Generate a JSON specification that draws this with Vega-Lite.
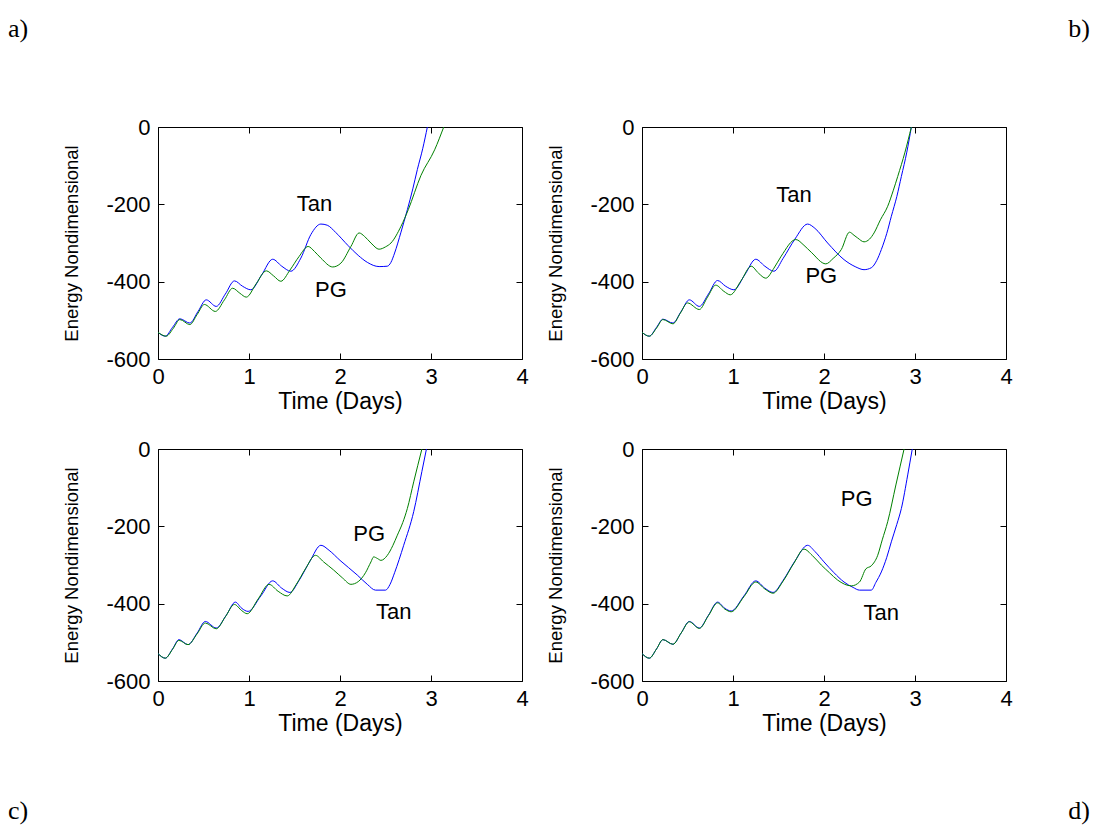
{
  "$schema": "https://vega.github.io/schema/vega-lite/v6.json",
  "padding": {"left": 7, "top": 15, "right": 0, "bottom": 0},
  "background": "white",
  "config": {
    "font": "Liberation Sans",
    "view": {"stroke": "#000", "strokeWidth": 1},
    "axis": {"domain": false, "grid": false, "tickColor": "#000", "tickSize": -6, "tickWidth": 1, "labelFont": "Liberation Sans", "labelFontSize": 22, "labelColor": "#000", "labelFlush": false, "labelOverlap": false, "labelBound": false, "titleFont": "Liberation Sans", "titleFontWeight": "normal", "titleColor": "#000"},
    "axisX": {"labelPadding": 13, "titleFontSize": 23, "titlePadding": 3},
    "axisY": {"labelPadding": 14, "titleFontSize": 18.5, "titlePadding": 24},
    "title": {"font": "Liberation Serif", "fontSize": 26, "fontWeight": "normal", "color": "#000"}
  },
  "datasets": {
    "curves": [
      {"panel":"a","series":"Tan","t":0,"e":-531},{"panel":"a","series":"Tan","t":0.08,"e":-541},{"panel":"a","series":"Tan","t":0.16,"e":-518},{"panel":"a","series":"Tan","t":0.24,"e":-496},{"panel":"a","series":"Tan","t":0.35,"e":-507},{"panel":"a","series":"Tan","t":0.44,"e":-477},{"panel":"a","series":"Tan","t":0.53,"e":-447},{"panel":"a","series":"Tan","t":0.64,"e":-464},{"panel":"a","series":"Tan","t":0.74,"e":-432},{"panel":"a","series":"Tan","t":0.84,"e":-398},{"panel":"a","series":"Tan","t":0.93,"e":-412},{"panel":"a","series":"Tan","t":1.02,"e":-421},{"panel":"a","series":"Tan","t":1.14,"e":-382},{"panel":"a","series":"Tan","t":1.26,"e":-342},{"panel":"a","series":"Tan","t":1.36,"e":-360},{"panel":"a","series":"Tan","t":1.46,"e":-373},{"panel":"a","series":"Tan","t":1.57,"e":-339},{"panel":"a","series":"Tan","t":1.68,"e":-278},{"panel":"a","series":"Tan","t":1.79,"e":-251},{"panel":"a","series":"Tan","t":1.86,"e":-254},{"panel":"a","series":"Tan","t":1.95,"e":-272},{"panel":"a","series":"Tan","t":2.09,"e":-307},{"panel":"a","series":"Tan","t":2.2,"e":-332},{"panel":"a","series":"Tan","t":2.3,"e":-350},{"panel":"a","series":"Tan","t":2.43,"e":-361},{"panel":"a","series":"Tan","t":2.52,"e":-360},{"panel":"a","series":"Tan","t":2.56,"e":-350},{"panel":"a","series":"Tan","t":2.6,"e":-326},{"panel":"a","series":"Tan","t":2.67,"e":-272},{"panel":"a","series":"Tan","t":2.74,"e":-214},{"panel":"a","series":"Tan","t":2.8,"e":-160},{"panel":"a","series":"Tan","t":2.85,"e":-110},{"panel":"a","series":"Tan","t":2.91,"e":-55},{"panel":"a","series":"Tan","t":2.96,"e":0},
      {"panel":"a","series":"PG","t":0,"e":-531},{"panel":"a","series":"PG","t":0.09,"e":-541},{"panel":"a","series":"PG","t":0.17,"e":-520},{"panel":"a","series":"PG","t":0.24,"e":-498},{"panel":"a","series":"PG","t":0.35,"e":-511},{"panel":"a","series":"PG","t":0.43,"e":-485},{"panel":"a","series":"PG","t":0.51,"e":-459},{"panel":"a","series":"PG","t":0.63,"e":-477},{"panel":"a","series":"PG","t":0.73,"e":-447},{"panel":"a","series":"PG","t":0.82,"e":-417},{"panel":"a","series":"PG","t":0.9,"e":-430},{"panel":"a","series":"PG","t":0.97,"e":-440},{"panel":"a","series":"PG","t":1.08,"e":-405},{"panel":"a","series":"PG","t":1.19,"e":-372},{"panel":"a","series":"PG","t":1.27,"e":-385},{"panel":"a","series":"PG","t":1.35,"e":-399},{"panel":"a","series":"PG","t":1.45,"e":-370},{"panel":"a","series":"PG","t":1.55,"e":-335},{"panel":"a","series":"PG","t":1.65,"e":-309},{"panel":"a","series":"PG","t":1.72,"e":-322},{"panel":"a","series":"PG","t":1.79,"e":-339},{"panel":"a","series":"PG","t":1.92,"e":-362},{"panel":"a","series":"PG","t":2.01,"e":-352},{"panel":"a","series":"PG","t":2.12,"e":-309},{"panel":"a","series":"PG","t":2.21,"e":-274},{"panel":"a","series":"PG","t":2.27,"e":-283},{"panel":"a","series":"PG","t":2.34,"e":-300},{"panel":"a","series":"PG","t":2.43,"e":-316},{"panel":"a","series":"PG","t":2.5,"e":-310},{"panel":"a","series":"PG","t":2.56,"e":-300},{"panel":"a","series":"PG","t":2.67,"e":-257},{"panel":"a","series":"PG","t":2.75,"e":-214},{"panel":"a","series":"PG","t":2.89,"e":-125},{"panel":"a","series":"PG","t":3.04,"e":-59},{"panel":"a","series":"PG","t":3.14,"e":0},
      {"panel":"b","series":"Tan","t":0,"e":-531},{"panel":"b","series":"Tan","t":0.08,"e":-541},{"panel":"b","series":"Tan","t":0.16,"e":-518},{"panel":"b","series":"Tan","t":0.23,"e":-497},{"panel":"b","series":"Tan","t":0.34,"e":-507},{"panel":"b","series":"Tan","t":0.43,"e":-477},{"panel":"b","series":"Tan","t":0.52,"e":-447},{"panel":"b","series":"Tan","t":0.63,"e":-464},{"panel":"b","series":"Tan","t":0.73,"e":-432},{"panel":"b","series":"Tan","t":0.83,"e":-397},{"panel":"b","series":"Tan","t":0.92,"e":-412},{"panel":"b","series":"Tan","t":1.01,"e":-421},{"panel":"b","series":"Tan","t":1.13,"e":-382},{"panel":"b","series":"Tan","t":1.25,"e":-342},{"panel":"b","series":"Tan","t":1.35,"e":-360},{"panel":"b","series":"Tan","t":1.45,"e":-373},{"panel":"b","series":"Tan","t":1.55,"e":-340},{"panel":"b","series":"Tan","t":1.68,"e":-290},{"panel":"b","series":"Tan","t":1.82,"e":-251},{"panel":"b","series":"Tan","t":1.9,"e":-262},{"panel":"b","series":"Tan","t":2.04,"e":-300},{"panel":"b","series":"Tan","t":2.22,"e":-343},{"panel":"b","series":"Tan","t":2.35,"e":-362},{"panel":"b","series":"Tan","t":2.44,"e":-369},{"panel":"b","series":"Tan","t":2.52,"e":-364},{"panel":"b","series":"Tan","t":2.58,"e":-345},{"panel":"b","series":"Tan","t":2.63,"e":-317},{"panel":"b","series":"Tan","t":2.69,"e":-275},{"panel":"b","series":"Tan","t":2.74,"e":-231},{"panel":"b","series":"Tan","t":2.8,"e":-180},{"panel":"b","series":"Tan","t":2.85,"e":-128},{"panel":"b","series":"Tan","t":2.91,"e":-65},{"panel":"b","series":"Tan","t":2.96,"e":0},
      {"panel":"b","series":"PG","t":0,"e":-531},{"panel":"b","series":"PG","t":0.08,"e":-541},{"panel":"b","series":"PG","t":0.16,"e":-520},{"panel":"b","series":"PG","t":0.23,"e":-498},{"panel":"b","series":"PG","t":0.34,"e":-509},{"panel":"b","series":"PG","t":0.42,"e":-482},{"panel":"b","series":"PG","t":0.5,"e":-455},{"panel":"b","series":"PG","t":0.63,"e":-472},{"panel":"b","series":"PG","t":0.72,"e":-440},{"panel":"b","series":"PG","t":0.81,"e":-409},{"panel":"b","series":"PG","t":0.9,"e":-425},{"panel":"b","series":"PG","t":0.97,"e":-434},{"panel":"b","series":"PG","t":1.09,"e":-397},{"panel":"b","series":"PG","t":1.2,"e":-360},{"panel":"b","series":"PG","t":1.28,"e":-378},{"panel":"b","series":"PG","t":1.36,"e":-391},{"panel":"b","series":"PG","t":1.45,"e":-365},{"panel":"b","series":"PG","t":1.53,"e":-334},{"panel":"b","series":"PG","t":1.69,"e":-291},{"panel":"b","series":"PG","t":1.78,"e":-306},{"panel":"b","series":"PG","t":1.86,"e":-324},{"panel":"b","series":"PG","t":2.02,"e":-354},{"panel":"b","series":"PG","t":2.1,"e":-340},{"panel":"b","series":"PG","t":2.19,"e":-317},{"panel":"b","series":"PG","t":2.28,"e":-272},{"panel":"b","series":"PG","t":2.33,"e":-280},{"panel":"b","series":"PG","t":2.37,"e":-287},{"panel":"b","series":"PG","t":2.44,"e":-297},{"panel":"b","series":"PG","t":2.5,"e":-290},{"panel":"b","series":"PG","t":2.55,"e":-274},{"panel":"b","series":"PG","t":2.62,"e":-240},{"panel":"b","series":"PG","t":2.7,"e":-205},{"panel":"b","series":"PG","t":2.76,"e":-165},{"panel":"b","series":"PG","t":2.81,"e":-128},{"panel":"b","series":"PG","t":2.89,"e":-65},{"panel":"b","series":"PG","t":2.96,"e":0},
      {"panel":"c","series":"Tan","t":0,"e":-529},{"panel":"c","series":"Tan","t":0.08,"e":-541},{"panel":"c","series":"Tan","t":0.16,"e":-517},{"panel":"c","series":"Tan","t":0.23,"e":-493},{"panel":"c","series":"Tan","t":0.33,"e":-506},{"panel":"c","series":"Tan","t":0.43,"e":-476},{"panel":"c","series":"Tan","t":0.52,"e":-446},{"panel":"c","series":"Tan","t":0.64,"e":-463},{"panel":"c","series":"Tan","t":0.75,"e":-430},{"panel":"c","series":"Tan","t":0.85,"e":-396},{"panel":"c","series":"Tan","t":0.92,"e":-412},{"panel":"c","series":"Tan","t":0.99,"e":-420},{"panel":"c","series":"Tan","t":1.13,"e":-380},{"panel":"c","series":"Tan","t":1.26,"e":-341},{"panel":"c","series":"Tan","t":1.36,"e":-360},{"panel":"c","series":"Tan","t":1.45,"e":-371},{"panel":"c","series":"Tan","t":1.55,"e":-340},{"panel":"c","series":"Tan","t":1.67,"e":-290},{"panel":"c","series":"Tan","t":1.79,"e":-249},{"panel":"c","series":"Tan","t":1.88,"e":-262},{"panel":"c","series":"Tan","t":2,"e":-288},{"panel":"c","series":"Tan","t":2.19,"e":-326},{"panel":"c","series":"Tan","t":2.3,"e":-350},{"panel":"c","series":"Tan","t":2.39,"e":-365},{"panel":"c","series":"Tan","t":2.5,"e":-365},{"panel":"c","series":"Tan","t":2.55,"e":-350},{"panel":"c","series":"Tan","t":2.6,"e":-320},{"panel":"c","series":"Tan","t":2.7,"e":-249},{"panel":"c","series":"Tan","t":2.81,"e":-162},{"panel":"c","series":"Tan","t":2.9,"e":-58},{"panel":"c","series":"Tan","t":2.95,"e":0},
      {"panel":"c","series":"PG","t":0,"e":-529},{"panel":"c","series":"PG","t":0.08,"e":-541},{"panel":"c","series":"PG","t":0.16,"e":-518},{"panel":"c","series":"PG","t":0.23,"e":-495},{"panel":"c","series":"PG","t":0.33,"e":-506},{"panel":"c","series":"PG","t":0.43,"e":-478},{"panel":"c","series":"PG","t":0.52,"e":-450},{"panel":"c","series":"PG","t":0.64,"e":-465},{"panel":"c","series":"PG","t":0.74,"e":-434},{"panel":"c","series":"PG","t":0.84,"e":-402},{"panel":"c","series":"PG","t":0.92,"e":-418},{"panel":"c","series":"PG","t":0.98,"e":-426},{"panel":"c","series":"PG","t":1.1,"e":-388},{"panel":"c","series":"PG","t":1.22,"e":-350},{"panel":"c","series":"PG","t":1.32,"e":-368},{"panel":"c","series":"PG","t":1.42,"e":-380},{"panel":"c","series":"PG","t":1.52,"e":-350},{"panel":"c","series":"PG","t":1.62,"e":-310},{"panel":"c","series":"PG","t":1.73,"e":-275},{"panel":"c","series":"PG","t":1.82,"e":-292},{"panel":"c","series":"PG","t":1.93,"e":-313},{"panel":"c","series":"PG","t":2.03,"e":-334},{"panel":"c","series":"PG","t":2.12,"e":-350},{"panel":"c","series":"PG","t":2.2,"e":-343},{"panel":"c","series":"PG","t":2.28,"e":-320},{"panel":"c","series":"PG","t":2.34,"e":-292},{"panel":"c","series":"PG","t":2.37,"e":-279},{"panel":"c","series":"PG","t":2.41,"e":-283},{"panel":"c","series":"PG","t":2.45,"e":-288},{"panel":"c","series":"PG","t":2.52,"e":-275},{"panel":"c","series":"PG","t":2.58,"e":-250},{"panel":"c","series":"PG","t":2.63,"e":-223},{"panel":"c","series":"PG","t":2.69,"e":-190},{"panel":"c","series":"PG","t":2.74,"e":-154},{"panel":"c","series":"PG","t":2.81,"e":-85},{"panel":"c","series":"PG","t":2.9,"e":0},
      {"panel":"d","series":"Tan","t":0,"e":-529},{"panel":"d","series":"Tan","t":0.08,"e":-541},{"panel":"d","series":"Tan","t":0.16,"e":-517},{"panel":"d","series":"Tan","t":0.23,"e":-493},{"panel":"d","series":"Tan","t":0.34,"e":-505},{"panel":"d","series":"Tan","t":0.43,"e":-476},{"panel":"d","series":"Tan","t":0.52,"e":-446},{"panel":"d","series":"Tan","t":0.63,"e":-463},{"panel":"d","series":"Tan","t":0.73,"e":-430},{"panel":"d","series":"Tan","t":0.83,"e":-396},{"panel":"d","series":"Tan","t":0.91,"e":-412},{"panel":"d","series":"Tan","t":0.98,"e":-419},{"panel":"d","series":"Tan","t":1.12,"e":-380},{"panel":"d","series":"Tan","t":1.25,"e":-341},{"panel":"d","series":"Tan","t":1.35,"e":-360},{"panel":"d","series":"Tan","t":1.44,"e":-371},{"panel":"d","series":"Tan","t":1.55,"e":-340},{"panel":"d","series":"Tan","t":1.68,"e":-290},{"panel":"d","series":"Tan","t":1.82,"e":-249},{"panel":"d","series":"Tan","t":1.9,"e":-265},{"panel":"d","series":"Tan","t":2,"e":-292},{"panel":"d","series":"Tan","t":2.11,"e":-320},{"panel":"d","series":"Tan","t":2.22,"e":-344},{"panel":"d","series":"Tan","t":2.32,"e":-358},{"panel":"d","series":"Tan","t":2.39,"e":-365},{"panel":"d","series":"Tan","t":2.52,"e":-365},{"panel":"d","series":"Tan","t":2.57,"e":-345},{"panel":"d","series":"Tan","t":2.63,"e":-318},{"panel":"d","series":"Tan","t":2.69,"e":-280},{"panel":"d","series":"Tan","t":2.74,"e":-240},{"panel":"d","series":"Tan","t":2.8,"e":-195},{"panel":"d","series":"Tan","t":2.85,"e":-154},{"panel":"d","series":"Tan","t":2.92,"e":-67},{"panel":"d","series":"Tan","t":2.97,"e":0},
      {"panel":"d","series":"PG","t":0,"e":-529},{"panel":"d","series":"PG","t":0.08,"e":-541},{"panel":"d","series":"PG","t":0.16,"e":-517},{"panel":"d","series":"PG","t":0.23,"e":-493},{"panel":"d","series":"PG","t":0.34,"e":-505},{"panel":"d","series":"PG","t":0.43,"e":-476},{"panel":"d","series":"PG","t":0.52,"e":-447},{"panel":"d","series":"PG","t":0.63,"e":-464},{"panel":"d","series":"PG","t":0.73,"e":-431},{"panel":"d","series":"PG","t":0.83,"e":-398},{"panel":"d","series":"PG","t":0.91,"e":-414},{"panel":"d","series":"PG","t":0.98,"e":-421},{"panel":"d","series":"PG","t":1.12,"e":-382},{"panel":"d","series":"PG","t":1.25,"e":-344},{"panel":"d","series":"PG","t":1.35,"e":-362},{"panel":"d","series":"PG","t":1.44,"e":-373},{"panel":"d","series":"PG","t":1.55,"e":-342},{"panel":"d","series":"PG","t":1.67,"e":-295},{"panel":"d","series":"PG","t":1.78,"e":-259},{"panel":"d","series":"PG","t":1.87,"e":-275},{"panel":"d","series":"PG","t":1.97,"e":-300},{"panel":"d","series":"PG","t":2.06,"e":-320},{"panel":"d","series":"PG","t":2.15,"e":-339},{"panel":"d","series":"PG","t":2.3,"e":-354},{"panel":"d","series":"PG","t":2.39,"e":-344},{"panel":"d","series":"PG","t":2.46,"e":-310},{"panel":"d","series":"PG","t":2.52,"e":-302},{"panel":"d","series":"PG","t":2.59,"e":-275},{"panel":"d","series":"PG","t":2.64,"e":-235},{"panel":"d","series":"PG","t":2.7,"e":-188},{"panel":"d","series":"PG","t":2.79,"e":-93},{"panel":"d","series":"PG","t":2.88,"e":0}
    ],
    "labels": [
      {"panel":"a","label":"Tan","t":1.72,"e":-199},{"panel":"a","label":"PG","t":1.9,"e":-421},
      {"panel":"b","label":"Tan","t":1.67,"e":-175},{"panel":"b","label":"PG","t":1.97,"e":-386},
      {"panel":"c","label":"PG","t":2.32,"e":-220},{"panel":"c","label":"Tan","t":2.59,"e":-421},
      {"panel":"d","label":"PG","t":2.36,"e":-130},{"panel":"d","label":"Tan","t":2.63,"e":-424}
    ]
  },
  "columns": 2,
  "align": "each",
  "spacing": {"row": 23, "column": 17},
  "concat": [
    {
      "width": 364, "height": 232,
      "title": {"text": "a)", "orient": "top", "anchor": "start", "frame": "group", "dx": -150, "offset": 53, "baseline": "alphabetic"},
      "layer": [
        {"data": {"name": "curves"}, "transform": [{"filter": "datum.panel === 'a'"}],
         "mark": {"type": "line", "interpolate": "monotone", "strokeWidth": 1, "clip": true},
         "encoding": {
           "x": {"field": "t", "type": "quantitative", "scale": {"domain": [0, 4], "nice": false, "zero": false}, "axis": {"orient": "bottom", "title": "Time (Days)", "values": [0, 1, 2, 3, 4]}},
           "y": {"field": "e", "type": "quantitative", "scale": {"domain": [-600, 0], "nice": false}, "axis": {"orient": "left", "title": "Energy Nondimensional", "values": [-600, -400, -200, 0], "labelExpr": "datum.value < 0 ? '-' + abs(datum.value) : '' + datum.value"}},
           "color": {"field": "series", "type": "nominal", "sort": ["Tan", "PG"], "scale": {"domain": ["Tan", "PG"], "range": ["#0000ff", "#008000"]}, "legend": null}
         }},
        {"data": {"name": "labels"}, "transform": [{"filter": "datum.panel === 'a'"}],
         "mark": {"type": "text", "font": "Liberation Sans", "fontSize": 22, "color": "#000", "align": "center", "baseline": "middle"},
         "encoding": {
           "x": {"field": "t", "type": "quantitative", "axis": {"orient": "top", "labels": false, "title": null, "values": [0, 1, 2, 3, 4]}},
           "y": {"field": "e", "type": "quantitative", "axis": {"orient": "right", "labels": false, "title": null, "values": [-600, -400, -200, 0]}},
           "text": {"field": "label"}
         }}
      ],
      "resolve": {"axis": {"x": "independent", "y": "independent"}}
    },
    {
      "width": 364, "height": 232,
      "title": {"text": "b)", "orient": "top", "anchor": "end", "frame": "group", "dx": 84, "offset": 53, "baseline": "alphabetic"},
      "layer": [
        {"data": {"name": "curves"}, "transform": [{"filter": "datum.panel === 'b'"}],
         "mark": {"type": "line", "interpolate": "monotone", "strokeWidth": 1, "clip": true},
         "encoding": {
           "x": {"field": "t", "type": "quantitative", "scale": {"domain": [0, 4], "nice": false, "zero": false}, "axis": {"orient": "bottom", "title": "Time (Days)", "values": [0, 1, 2, 3, 4]}},
           "y": {"field": "e", "type": "quantitative", "scale": {"domain": [-600, 0], "nice": false}, "axis": {"orient": "left", "title": "Energy Nondimensional", "values": [-600, -400, -200, 0], "labelExpr": "datum.value < 0 ? '-' + abs(datum.value) : '' + datum.value"}},
           "color": {"field": "series", "type": "nominal", "sort": ["Tan", "PG"], "scale": {"domain": ["Tan", "PG"], "range": ["#0000ff", "#008000"]}, "legend": null}
         }},
        {"data": {"name": "labels"}, "transform": [{"filter": "datum.panel === 'b'"}],
         "mark": {"type": "text", "font": "Liberation Sans", "fontSize": 22, "color": "#000", "align": "center", "baseline": "middle"},
         "encoding": {
           "x": {"field": "t", "type": "quantitative", "axis": {"orient": "top", "labels": false, "title": null, "values": [0, 1, 2, 3, 4]}},
           "y": {"field": "e", "type": "quantitative", "axis": {"orient": "right", "labels": false, "title": null, "values": [-600, -400, -200, 0]}},
           "text": {"field": "label"}
         }}
      ],
      "resolve": {"axis": {"x": "independent", "y": "independent"}}
    },
    {
      "width": 364, "height": 232,
      "title": {"text": "c)", "orient": "bottom", "anchor": "start", "frame": "group", "dx": -150, "offset": 84, "baseline": "alphabetic"},
      "layer": [
        {"data": {"name": "curves"}, "transform": [{"filter": "datum.panel === 'c'"}],
         "mark": {"type": "line", "interpolate": "monotone", "strokeWidth": 1, "clip": true},
         "encoding": {
           "x": {"field": "t", "type": "quantitative", "scale": {"domain": [0, 4], "nice": false, "zero": false}, "axis": {"orient": "bottom", "title": "Time (Days)", "values": [0, 1, 2, 3, 4]}},
           "y": {"field": "e", "type": "quantitative", "scale": {"domain": [-600, 0], "nice": false}, "axis": {"orient": "left", "title": "Energy Nondimensional", "values": [-600, -400, -200, 0], "labelExpr": "datum.value < 0 ? '-' + abs(datum.value) : '' + datum.value"}},
           "color": {"field": "series", "type": "nominal", "sort": ["Tan", "PG"], "scale": {"domain": ["Tan", "PG"], "range": ["#0000ff", "#008000"]}, "legend": null}
         }},
        {"data": {"name": "labels"}, "transform": [{"filter": "datum.panel === 'c'"}],
         "mark": {"type": "text", "font": "Liberation Sans", "fontSize": 22, "color": "#000", "align": "center", "baseline": "middle"},
         "encoding": {
           "x": {"field": "t", "type": "quantitative", "axis": {"orient": "top", "labels": false, "title": null, "values": [0, 1, 2, 3, 4]}},
           "y": {"field": "e", "type": "quantitative", "axis": {"orient": "right", "labels": false, "title": null, "values": [-600, -400, -200, 0]}},
           "text": {"field": "label"}
         }}
      ],
      "resolve": {"axis": {"x": "independent", "y": "independent"}}
    },
    {
      "width": 364, "height": 232,
      "title": {"text": "d)", "orient": "bottom", "anchor": "end", "frame": "group", "dx": 84, "offset": 84, "baseline": "alphabetic"},
      "layer": [
        {"data": {"name": "curves"}, "transform": [{"filter": "datum.panel === 'd'"}],
         "mark": {"type": "line", "interpolate": "monotone", "strokeWidth": 1, "clip": true},
         "encoding": {
           "x": {"field": "t", "type": "quantitative", "scale": {"domain": [0, 4], "nice": false, "zero": false}, "axis": {"orient": "bottom", "title": "Time (Days)", "values": [0, 1, 2, 3, 4]}},
           "y": {"field": "e", "type": "quantitative", "scale": {"domain": [-600, 0], "nice": false}, "axis": {"orient": "left", "title": "Energy Nondimensional", "values": [-600, -400, -200, 0], "labelExpr": "datum.value < 0 ? '-' + abs(datum.value) : '' + datum.value"}},
           "color": {"field": "series", "type": "nominal", "sort": ["Tan", "PG"], "scale": {"domain": ["Tan", "PG"], "range": ["#0000ff", "#008000"]}, "legend": null}
         }},
        {"data": {"name": "labels"}, "transform": [{"filter": "datum.panel === 'd'"}],
         "mark": {"type": "text", "font": "Liberation Sans", "fontSize": 22, "color": "#000", "align": "center", "baseline": "middle"},
         "encoding": {
           "x": {"field": "t", "type": "quantitative", "axis": {"orient": "top", "labels": false, "title": null, "values": [0, 1, 2, 3, 4]}},
           "y": {"field": "e", "type": "quantitative", "axis": {"orient": "right", "labels": false, "title": null, "values": [-600, -400, -200, 0]}},
           "text": {"field": "label"}
         }}
      ],
      "resolve": {"axis": {"x": "independent", "y": "independent"}}
    }
  ]
}
